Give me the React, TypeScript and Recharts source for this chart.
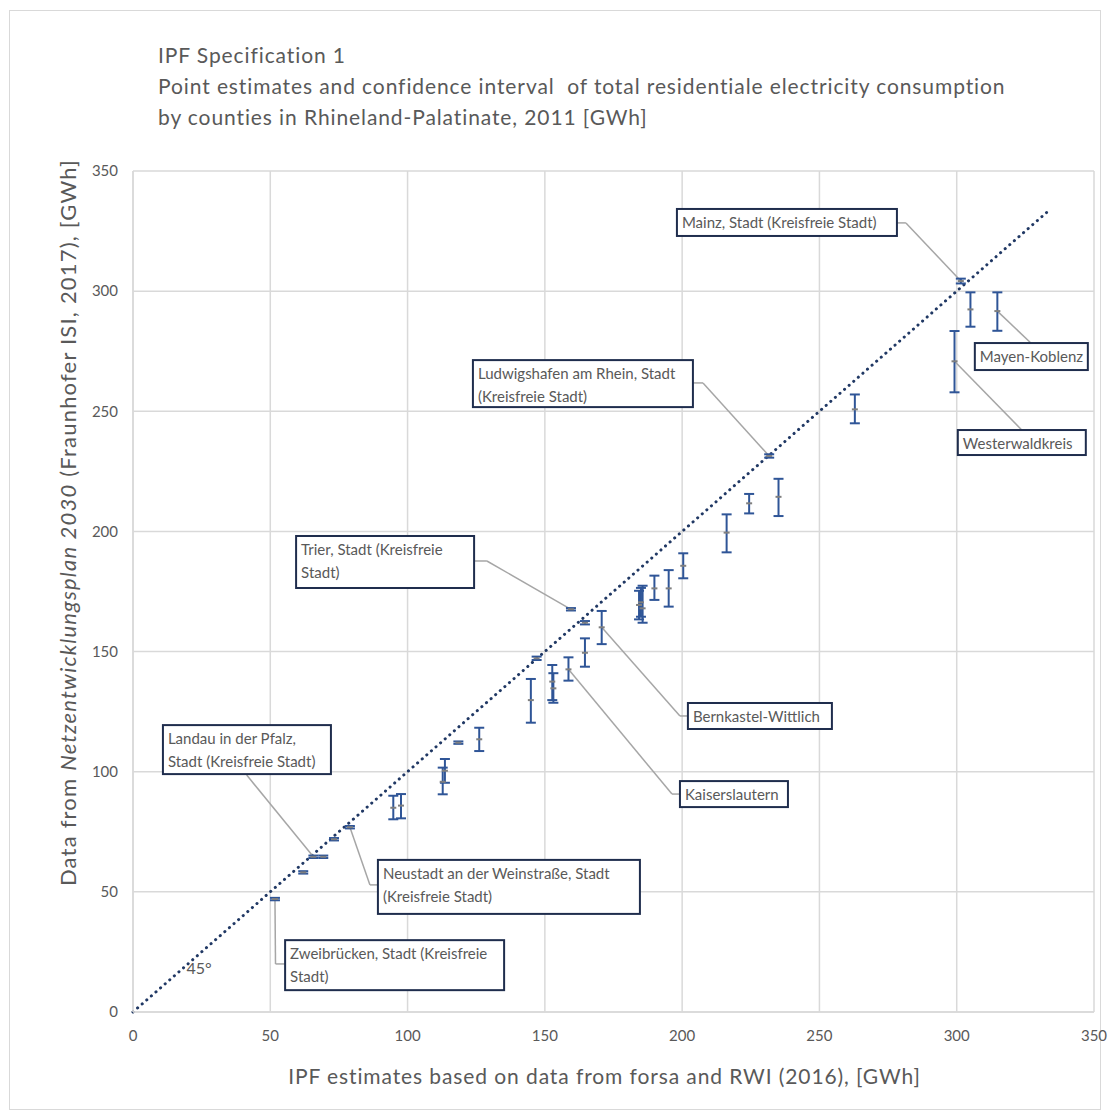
import React from 'react';
import { ScatterChart, Scatter, XAxis, YAxis, CartesianGrid, ErrorBar, ReferenceLine, ReferenceDot } from 'recharts';

// IPF estimate (x), Netzentwicklungsplan value (y) and confidence interval per county
const countyX = [51.7, 62.0, 65.7, 69.3, 73.2, 79.0, 94.8, 97.6, 112.8, 113.6, 118.5, 126.1, 144.9, 147.0, 152.7, 153.1, 158.6, 159.5, 164.6, 164.6, 170.7, 184.3, 185.0, 185.6, 189.9, 195.1, 200.4, 216.2, 224.4, 231.7, 235.1, 262.9, 299.2, 301.5, 305.0, 314.8];
const countyY = [47.0, 58.1, 64.6, 64.6, 71.9, 76.9, 85.0, 85.9, 95.8, 100.4, 112.1, 113.5, 129.8, 147.2, 137.5, 134.7, 142.6, 167.6, 149.5, 162.0, 160.1, 169.4, 170.5, 168.0, 176.3, 176.3, 185.7, 199.5, 211.7, 231.4, 214.4, 250.8, 270.8, 304.2, 292.4, 291.7];
const ciLow = [46.5, 57.6, 64.1, 64.1, 71.4, 76.4, 80.2, 80.6, 90.6, 95.4, 111.6, 108.6, 120.4, 146.5, 129.8, 128.7, 137.9, 167.1, 143.7, 161.3, 153.1, 163.4, 164.5, 162.0, 171.5, 168.7, 180.5, 191.3, 207.5, 230.7, 206.4, 245.0, 257.9, 303.2, 285.2, 283.5];
const ciHigh = [47.5, 58.6, 65.1, 65.1, 72.4, 77.4, 90.0, 90.7, 101.7, 105.3, 112.6, 118.3, 138.6, 147.9, 144.4, 141.0, 147.6, 168.1, 155.5, 162.7, 166.9, 175.3, 176.5, 177.4, 181.6, 183.9, 190.9, 207.1, 215.6, 232.1, 221.9, 257.0, 283.4, 305.2, 299.5, 299.5];

const ticks = [0, 50, 100, 150, 200, 250, 300, 350];

const rows = countyX.map((x, i) => ({
  x,
  y: countyY[i],
  err: [countyY[i] - ciLow[i], ciHigh[i] - countyY[i]],
}));

// callout boxes: county index, text, box top-left (data units), box size (px), leader path start/elbow (data units)
const notes = [
  { idx: 33, lines: ['Mainz, Stadt (Kreisfreie Stadt)'], bx: 198.1, by: 334.2, w: 220, h: 27, path: [[278.2, 328.4], [281.5, 328.4]] },
  { idx: 29, lines: ['Ludwigshafen am Rhein, Stadt', '(Kreisfreie Stadt)'], bx: 123.8, by: 271.3, w: 220, h: 47, path: [[203.9, 261.8], [207.6, 261.8]] },
  { idx: 17, lines: ['Trier, Stadt (Kreisfreie', 'Stadt)'], bx: 59.4, by: 198.1, w: 178, h: 52, path: [[124.2, 187.7], [128.9, 187.7]] },
  { idx: 20, lines: ['Bernkastel-Wittlich'], bx: 202.1, by: 128.6, w: 144, h: 26, path: [[202.1, 123.2], [199.2, 123.2]] },
  { idx: 16, lines: ['Kaiserslautern'], bx: 199.2, by: 96.1, w: 108, h: 26, path: [[199.2, 90.7], [196.3, 90.7]] },
  { idx: 2, lines: ['Landau in der Pfalz,', 'Stadt (Kreisfreie Stadt)'], bx: 10.9, by: 119.4, w: 168, h: 49, path: [[41.4, 98.6]] },
  { idx: 5, lines: ['Neustadt an der Weinstraße, Stadt', '(Kreisfreie Stadt)'], bx: 89.2, by: 63.3, w: 262, h: 54, path: [[89.2, 52.9], [86.3, 52.9]] },
  { idx: 0, lines: ['Zweibrücken, Stadt (Kreisfreie', 'Stadt)'], bx: 55.4, by: 29.9, w: 219, h: 50, path: [[55.4, 20.0], [51.9, 20.0]] },
  { idx: 35, lines: ['Mayen-Koblenz'], bx: 306.6, by: 278.4, w: 113, h: 27, path: [[327.0, 278.4]] },
  { idx: 32, lines: ['Westerwaldkreis'], bx: 300.4, by: 242.2, w: 128, h: 25, path: [[323.7, 242.2]] },
];

const FONT = 'Lato, "Open Sans", sans-serif';
const GRAY = '#595959';

const Mark = (p: any) => (
  <line x1={p.cx - 3} x2={p.cx + 3} y1={p.cy} y2={p.cy} stroke="#7f7f7f" strokeWidth={2} />
);

const boxShape = (n: any) => (p: any) => (
  <g>
    <rect x={p.cx} y={p.cy} width={n.w} height={n.h} fill="#fff" stroke="#1f2d4d" strokeWidth={2} />
    {n.lines.map((t: string, k: number) => (
      <text key={k} x={p.cx + 5} y={p.cy + 19 + k * 23} fontSize={15} fill={GRAY} fontFamily={FONT}>{t}</text>
    ))}
  </g>
);

const leaderSegments = () => {
  const out: any[] = [];
  notes.forEach((n, i) => {
    const pts = [...n.path, [countyX[n.idx], countyY[n.idx]]];
    for (let k = 0; k < pts.length - 1; k++) {
      out.push(
        <ReferenceLine key={`l${i}-${k}`} segment={[{ x: pts[k][0], y: pts[k][1] }, { x: pts[k + 1][0], y: pts[k + 1][1] }]}
          stroke="#a6a6a6" strokeWidth={1.5} />
      );
    }
  });
  return out;
};

export default function App() {
  return (
    <div style={{ position: 'absolute', left: 0, top: 0, width: 1111, height: 1120, background: '#fff', fontFamily: FONT }}>
      <div style={{ position: 'absolute', left: 9, top: 10, width: 1092, height: 1100, border: '1px solid #d9d9d9', boxSizing: 'border-box' }} />
      <div style={{ position: 'absolute', left: 158, top: 39, color: GRAY, fontSize: 21, letterSpacing: 0.9, lineHeight: '31px', whiteSpace: 'pre' }}>
        <div>IPF Specification 1</div>
        <div>Point estimates and confidence interval  of total residentiale electricity consumption</div>
        <div>by counties in Rhineland-Palatinate, 2011 [GWh]</div>
      </div>
      <div style={{ position: 'absolute', left: 0, top: 0 }}>
        <ScatterChart width={1111} height={1120} margin={{ top: 171, right: 17, bottom: 0, left: 0 }}>
          <CartesianGrid stroke="#d9d9d9" strokeWidth={1.5} />
          <XAxis type="number" dataKey="x" domain={[0, 350]} ticks={ticks} height={108} tickLine={false} tickSize={0} tickMargin={18}
            axisLine={{ stroke: '#d9d9d9', strokeWidth: 1.5 }} tick={{ fill: GRAY, fontSize: 15, fontFamily: FONT }} interval={0} />
          <YAxis type="number" dataKey="y" domain={[0, 350]} ticks={ticks} width={133} tickLine={false} tickSize={0} tickMargin={15}
            axisLine={{ stroke: '#d9d9d9', strokeWidth: 1.5 }} tick={{ fill: GRAY, fontSize: 15, fontFamily: FONT }} interval={0} />
          <ReferenceLine segment={[{ x: 0, y: 0 }, { x: 333, y: 333 }]} stroke="#203864" strokeWidth={3}
            strokeDasharray="0.1 6" strokeLinecap="round" />
          {leaderSegments()}
          <Scatter data={rows} shape={Mark} isAnimationActive={false}>
            <ErrorBar dataKey="err" direction="y" width={5} stroke="#2f5597" strokeWidth={2} isAnimationActive={false} />
          </Scatter>
          {notes.map((n, i) => (
            <ReferenceDot key={`b${i}`} x={n.bx} y={n.by} r={0} shape={boxShape(n)} />
          ))}
          <ReferenceDot x={19.5} y={16} r={0}
            shape={(p: any) => <text x={p.cx} y={p.cy} fontSize={16} fill={GRAY} fontFamily={FONT}>45°</text>} />
        </ScatterChart>
      </div>
      <div style={{ position: 'absolute', left: 124, width: 961, top: 1063, textAlign: 'center', color: GRAY, fontSize: 21, letterSpacing: 0.9 }}>
        IPF estimates based on data from forsa and RWI (2016), [GWh]
      </div>
      <div style={{ position: 'absolute', left: 67, top: 524, width: 0, height: 0 }}>
        <div style={{ position: 'absolute', left: -400, top: -15, width: 800, textAlign: 'center', color: GRAY, fontSize: 22, letterSpacing: 1.2, transform: 'rotate(-90deg)', whiteSpace: 'nowrap' }}>
          Data from <i>Netzentwicklungsplan 2030</i> (Fraunhofer ISI, 2017), [GWh]
        </div>
      </div>
    </div>
  );
}
